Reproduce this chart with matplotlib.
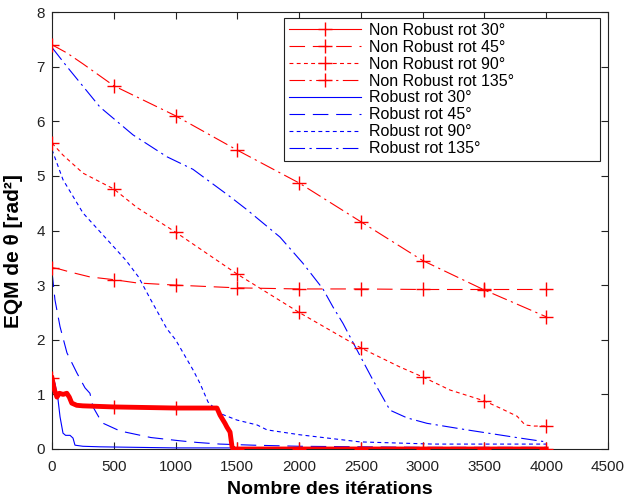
import matplotlib
matplotlib.use("Agg")
import matplotlib.pyplot as plt
import numpy as np

plt.rcParams['font.family'] = ['Liberation Sans', 'DejaVu Sans']

# ---- data ----
nr30_x = [0, 20, 40, 60, 90, 120, 140, 160, 200, 250, 500, 1000, 1335, 1360, 1384, 1400, 1416, 1441, 1457, 1470, 1500, 2000, 2500, 3000, 3500, 4000]
nr30_y = [1.3, 1.08, 0.95, 1.02, 1.0, 1.02, 0.95, 0.84, 0.8, 0.79, 0.77, 0.75, 0.75, 0.62, 0.53, 0.47, 0.4, 0.31, 0.04, 0.0, 0.0, 0.0, 0.0, 0.0, 0.0, 0.0]

nr45_x = [0, 50, 146, 307, 500, 688, 1000, 1500, 2000, 2500, 3000, 3500, 4000]
nr45_y = [3.32, 3.3, 3.24, 3.15, 3.1, 3.04, 3.0, 2.95, 2.93, 2.93, 2.92, 2.92, 2.92]

nr90_x = [0, 89, 251, 500, 688, 1000, 1500, 2000, 2500, 2817, 3000, 3221, 3500, 3626, 3764, 3829, 3900, 4000]
nr90_y = [5.6, 5.38, 5.05, 4.76, 4.42, 3.97, 3.2, 2.5, 1.85, 1.5, 1.32, 1.08, 0.88, 0.75, 0.6, 0.44, 0.42, 0.42]

nr135_x = [0, 121, 251, 500, 1000, 1500, 2000, 2500, 3000, 3500, 4000]
nr135_y = [7.4, 7.25, 7.05, 6.65, 6.1, 5.47, 4.87, 4.16, 3.45, 2.91, 2.42]

r30_x = [0, 24, 49, 65, 89, 110, 146, 170, 186, 250, 388, 1000, 2000, 4000]
r30_y = [1.35, 1.2, 0.9, 0.59, 0.29, 0.25, 0.25, 0.2, 0.07, 0.05, 0.04, 0.02, 0.02, 0.02]

r45_x = [0, 24, 65, 121, 202, 267, 307, 332, 405, 550, 800, 1036, 1174, 1360, 1627, 2000, 2500, 3000, 3500, 4000]
r45_y = [3.25, 2.73, 2.24, 1.76, 1.39, 1.12, 1.02, 0.77, 0.48, 0.33, 0.21, 0.15, 0.12, 0.09, 0.07, 0.05, 0.04, 0.03, 0.03, 0.03]

r90_x = [0, 89, 251, 500, 600, 700, 800, 930, 1000, 1141, 1198, 1263, 1360, 1497, 1660, 1740, 2007, 2493, 3084, 4000]
r90_y = [5.48, 4.93, 4.32, 3.7, 3.45, 3.15, 2.73, 2.2, 2.0, 1.45, 1.2, 0.86, 0.65, 0.53, 0.44, 0.35, 0.26, 0.13, 0.09, 0.09]

r135_x = [0, 121, 388, 656, 930, 1141, 1441, 1578, 1845, 2031, 2193, 2274, 2355, 2469, 2598, 2736, 2873, 3035, 3359, 3788, 4000]
r135_y = [7.35, 7.0, 6.26, 5.75, 5.35, 5.12, 4.62, 4.38, 3.88, 3.4, 2.93, 2.6, 2.3, 1.81, 1.26, 0.71, 0.57, 0.47, 0.35, 0.2, 0.13]

labels = ['Non Robust rot 30°', 'Non Robust rot 45°', 'Non Robust rot 90°', 'Non Robust rot 135°',
          'Robust rot 30°', 'Robust rot 45°', 'Robust rot 90°', 'Robust rot 135°']

x_ticks = [0, 500, 1000, 1500, 2000, 2500, 3000, 3500, 4000, 4500]
y_ticks = [0, 1, 2, 3, 4, 5, 6, 7, 8]

# ---- styles ----
lw = 0.8
solid = '-'
dashed = (0, (14, 7))
dotted = (0, (3.5, 3))
dashdot = (0, (14, 4, 2, 4))

fig = plt.figure(figsize=(6.25, 4.99), dpi=100)
ax = fig.add_axes([52/625, 1-449/499, 556/625, 437/499])

def marks(xs):
    return [i for i, v in enumerate(xs) if v % 500 == 0]

red = '#ff0000'
blue = '#0000ff'
series_nr = [(nr30_x, nr30_y, solid, 3.5), (nr45_x, nr45_y, dashed, lw),
             (nr90_x, nr90_y, dotted, lw), (nr135_x, nr135_y, dashdot, lw)]
series_r = [(r30_x, r30_y, solid), (r45_x, r45_y, dashed),
            (r90_x, r90_y, dotted), (r135_x, r135_y, dashdot)]

handles = []
for (xs, ys, ls, w), lab in zip(series_nr, labels[:4]):
    ax.plot(xs, ys, color=red, linestyle=ls, linewidth=w, zorder=3)
    ax.plot([xs[i] for i in marks(xs)], [ys[i] for i in marks(xs)], linestyle='none',
            marker='+', markersize=10, markeredgewidth=1.0, color=red, zorder=4)
    h, = ax.plot([], [], color=red, linestyle=ls, linewidth=lw, marker='+',
                 markersize=10, markeredgewidth=1.0, label=lab)
    handles.append(h)
for (xs, ys, ls), lab in zip(series_r, labels[4:]):
    h, = ax.plot(xs, ys, color=blue, linestyle=ls, linewidth=lw, label=lab, zorder=2)
    handles.append(h)

ax.set_xlim(0, 4500)
ax.set_ylim(0, 8)
ax.set_xticks(x_ticks)
ax.set_yticks(y_ticks)
ax.tick_params(direction='in', top=True, right=True, length=5, width=0.8,
               labelsize=11, colors='#222222', pad=5)
ax.tick_params(axis='x', pad=8)
for s in ax.spines.values():
    s.set_linewidth(0.8)
    s.set_color('#222222')

ax.set_xlabel('Nombre des itérations', fontsize=14, fontweight='bold', labelpad=5)
ax.set_ylabel('EQM de θ [rad²]', fontsize=15, fontweight='bold')
ax.yaxis.set_label_coords(-0.052, 0.452)

leg = ax.legend(handles=handles, loc='upper left',
                bbox_to_anchor=(0.4173, 0.5, 0.568, 0.4863), mode='expand',
                borderaxespad=0, fontsize=11.5, handlelength=4.5, handletextpad=0.5,
                labelspacing=0.12, borderpad=0.3, fancybox=False, framealpha=1,
                edgecolor='#222222')
leg.get_frame().set_linewidth(0.8)

fig.savefig('out.png', dpi=100)
